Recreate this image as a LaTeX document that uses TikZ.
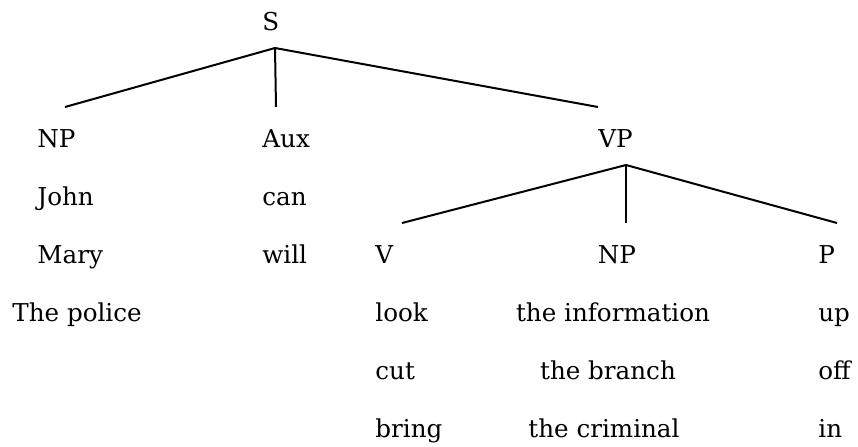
\documentclass[tikz,border=0pt]{standalone}
\usepackage{fontspec}
\setmainfont{DejaVu Serif}
\usetikzlibrary{positioning}

\begin{document}
\begin{tikzpicture}[
    x=0.5pt, y=-0.5pt,
    word/.style={anchor=base west, inner sep=0pt, font=\fontsize{12.3}{14}\selectfont},
    cword/.style={word, anchor=base},
    branch/.style={line width=1pt},
    ]
    \useasboundingbox (0,0) rectangle (858,446);

        % top level
        \node[word] (s) at (262, 30) {S};
        \foreach \w/\name [count=\i from 0] in {NP/np,John/john,Mary/mary}
            \node[word] (\name) at (37, 147+58*\i) {\w};
        \node[word] (police) at (12, 321) {The police};
        \foreach \w/\name [count=\i from 0] in {Aux/aux,can/can,will/will}
            \node[word] (\name) at (262, 147+58*\i) {\w};
        \node[word] (vp) at (598, 147) {VP};

        % verb phrase
        \foreach \w/\name [count=\i from 0] in {V/v,look/look,cut/cut,bring/bring}
            \node[word] (\name) at (375, 263+58*\i) {\w};
        \node[cword] (np2) at (617, 263) {NP};
        \node[cword] (info) at (613, 321) {the information};
        \node[cword] (branch) at (608, 379) {the branch};
        \node[cword] (criminal) at (604, 437) {the criminal};
        \foreach \w/\name [count=\i from 0] in {P/p,up/up,off/off,in/in}
            \node[word] (\name) at (818, 263+58*\i) {\w};

        % branch ends
        \coordinate (s-b) at (275, 48);
        \coordinate (np-t) at (65, 107);
        \coordinate (aux-t) at (276, 107);
        \coordinate (vp-t) at (598, 107);
        \coordinate (vp-b) at (626, 165);
        \coordinate (v-t) at (402, 223);
        \coordinate (np2-t) at (626, 223);
        \coordinate (p-t) at (837, 223);

        \foreach \t in {np-t,aux-t,vp-t}
            \draw[branch] (s-b) -- (\t);
        \foreach \t in {v-t,np2-t,p-t}
            \draw[branch] (vp-b) -- (\t);
\end{tikzpicture}
\end{document}
